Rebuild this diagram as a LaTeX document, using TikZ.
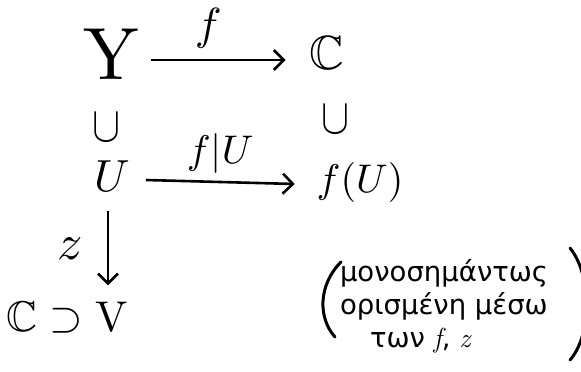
\documentclass[tikz,border=0pt]{standalone}
\usepackage{fontspec}
\usepackage{amssymb}
\usepackage{graphicx}
\newfontfamily\greekfont{DejaVu Sans}
\usetikzlibrary{arrows.meta}
\begin{document}
\begin{tikzpicture}[x=1pt,y=-1pt,
  obj/.style={inner sep=0pt, outer sep=0pt},
  arr/.style={line width=2.6pt, -{Straight Barb[length=10pt,width=20pt,line width=2.6pt]}},
  paren/.style={line width=3pt, line cap=round}]
\useasboundingbox (0,0) rectangle (581,372);
\clip (0,0) rectangle (581,372);
% objects
\node[obj] (Y)  at (111,54)  {\scalebox{7.4}{$\mathrm{Y}$}};
\node[obj] (C)  at (327,53)  {\scalebox{4.8}{$\mathbb{C}$}};
\node[obj] (s1) at (106,128) {\scalebox{4.2}[5]{$\cup$}};
\node[obj] (s2) at (335,120) {\scalebox{4.2}[5]{$\cup$}};
\node[obj] (U)  at (112,176) {\scalebox{4.5}{$U$}};
\node[obj] (fU) at (360,182) {\scalebox{4}{$f(U)$}};
\node[obj] (CV) at (67,318)  {\scalebox{4.3}{$\mathbb{C}\supset \mathrm{V}$}};
% arrows
\draw[arr] ([xshift=12pt,yshift=-6pt]Y.east) -- ([xshift=-24pt,yshift=-7pt]C.west)
  node[midway, above=7pt, xshift=-10pt] (f) {\scalebox{4.5}{$f$}};
\draw[arr] ([xshift=16pt,yshift=-4pt]U.east) -- ([xshift=-22pt,yshift=-2pt]fU.west)
  node[midway, above=4pt] (fu) {\scalebox{4}{$f|U$}};
\draw[arr] ([xshift=-4pt,yshift=-20pt]U.south) -- ([xshift=41pt,yshift=17pt]CV.north)
  node[midway, left=20pt] (z) {\scalebox{5}{$z$}};
% remark
\node[obj, anchor=west, align=left, font=\greekfont\fontsize{27.5}{33}\selectfont] (note) at (340,306)
  {μονοσημάντως\\ορισμένη μέσω\\\hspace{30pt}των {\rmfamily\itshape f}, {\rmfamily\itshape z}};
\draw[paren] (341,262) .. controls (318,285) and (318,318) .. (335,337);
\draw[paren] (570,248) .. controls (592,275) and (592,335) .. (570,360);
\end{tikzpicture}
\end{document}
